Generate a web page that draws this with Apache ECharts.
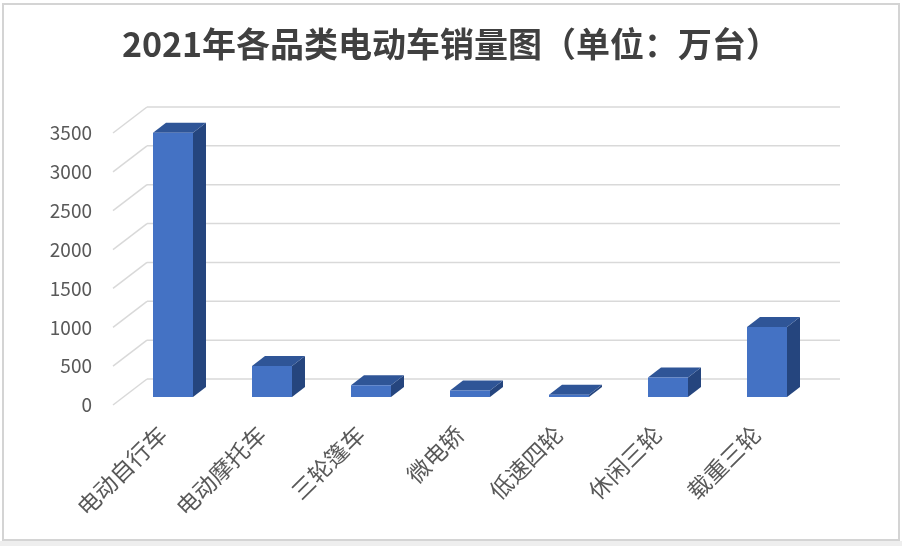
<!DOCTYPE html>
<html><head><meta charset="utf-8">
<script src="https://cdn.jsdelivr.net/npm/echarts@6/dist/echarts.min.js"></script>
<style>html,body{margin:0;padding:0;background:#fff}#c{width:902px;height:546px}</style>
</head><body><div id="c"></div>
<script>
const categories = ['电动自行车','电动摩托车','三轮篷车','微电轿','低速四轮','休闲三轮','载重三轮'];
const sales = [3400, 400, 150, 85, 30, 250, 900];
const yTicks = [0, 500, 1000, 1500, 2000, 2500, 3000, 3500];
const titleText = '2021年各品类电动车销量图（单位：万台）';

const FONT = "'Noto Sans CJK SC','Liberation Sans',sans-serif";
// 3D projection style constants
const WALL_DX = 34, WALL_DY = -26;   // back wall offset from front floor edge
const BAR_FX = 10.5, BAR_FY = -8;    // bar front plane offset
const BAR_DX = 13, BAR_DY = -10;     // bar depth
const FRONT = '#4472C4', TOP = '#2F5597', SIDE = '#25457E';

const chart = echarts.init(document.getElementById('c'), null, {renderer:'canvas'});
chart.setOption({
  backgroundColor: '#fff',
  animation: false,
  title: {
    text: titleText, left: 'center', top: 22,
    textStyle: {fontFamily: FONT, fontSize: 34, fontWeight: 'bold', color: '#404040'}
  },
  graphic: [
    {type:'rect', shape:{x:3, y:4, width:896, height:536}, style:{fill:'none', stroke:'#d4d4d4', lineWidth:2}, silent:true, z:-10},
    {type:'rect', shape:{x:0, y:541, width:902, height:5}, style:{fill:'#eeeeee'}, silent:true, z:-10}
  ],
  grid: {left: 113, right: 96, top: 133, bottom: 141},
  xAxis: {
    type: 'category', data: categories,
    axisLine: {show:false}, axisTick: {show:false},
    axisLabel: {rotate: 45, margin: 25, fontFamily: FONT, fontSize: 23, color: '#595959', interval: 0}
  },
  yAxis: {
    type: 'value', min: 0, max: 3500, interval: 500,
    axisLine: {show:false}, axisTick: {show:false}, splitLine: {show:false},
    axisLabel: {margin: 21, fontFamily: FONT, fontSize: 19, color: '#595959', formatter: v => String(v)}
  },
  series: [
    {
      type: 'custom', clip: false, z: 1, silent: true,
      data: yTicks.map(v => [0, v]),
      encode: {x: 0, y: 1},
      renderItem: function (params, api) {
        const cs = params.coordSys;
        const p = api.coord([0, api.value(1)]);
        const y = p[1], x0 = cs.x, x1 = cs.x + cs.width;
        const st = {stroke: '#d9d9d9', lineWidth: 1.5, fill: 'none'};
        return {type: 'group', children: [
          {type: 'line', shape: {x1: x0, y1: y, x2: x0 + WALL_DX, y2: y + WALL_DY}, style: st},
          {type: 'line', shape: {x1: x0 + WALL_DX, y1: y + WALL_DY, x2: x1 + WALL_DX, y2: y + WALL_DY}, style: st}
        ]};
      }
    },
    {
      type: 'custom', clip: false, z: 5,
      data: sales.map((v, i) => [i, v]),
      encode: {x: 0, y: 1},
      renderItem: function (params, api) {
        const i = api.value(0);
        const base = api.coord([i, 0]);
        const top = api.coord([i, api.value(1)]);
        const w = api.size([1, 0])[0] * 0.404;
        const xl = base[0] + BAR_FX - w / 2, xr = xl + w;
        const yb = base[1] + BAR_FY, yt = top[1] + BAR_FY;
        return {type: 'group', children: [
          {type: 'polygon', shape: {points: [[xr, yt], [xr + BAR_DX, yt + BAR_DY], [xr + BAR_DX, yb + BAR_DY], [xr, yb]]}, style: {fill: SIDE}},
          {type: 'polygon', shape: {points: [[xl, yt], [xr, yt], [xr + BAR_DX, yt + BAR_DY], [xl + BAR_DX, yt + BAR_DY]]}, style: {fill: TOP}},
          {type: 'rect', shape: {x: xl, y: yt, width: w, height: yb - yt}, style: {fill: FRONT}}
        ]};
      }
    }
  ]
});
</script></body></html>
